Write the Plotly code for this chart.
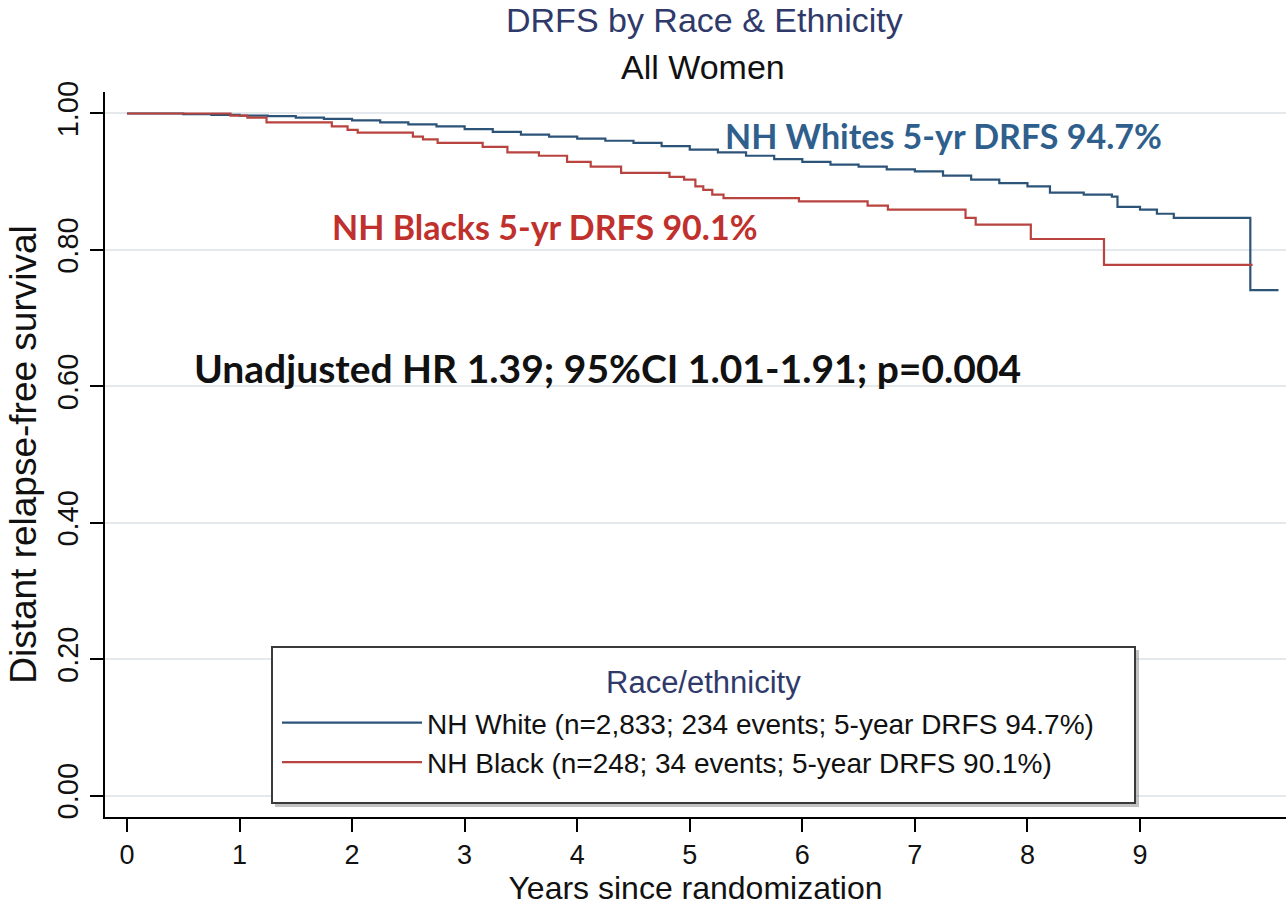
import plotly.graph_objects as go

# ---- Data (Kaplan-Meier step curves) ----
white_years = [0.0, 0.25, 0.5, 0.75, 1.0, 1.25, 1.5, 1.75, 2.0, 2.25, 2.5, 2.75, 3.0, 3.25,
               3.5, 3.75, 4.0, 4.25, 4.5, 4.75, 5.0, 5.25, 5.5, 5.75, 6.0, 6.25, 6.5, 6.75,
               7.0, 7.25, 7.5, 7.75, 8.0, 8.2, 8.5, 8.75, 8.8, 9.0, 9.15, 9.3, 9.98, 10.23]
white_surv = [1.000, 1.000, 0.999, 0.998, 0.997, 0.996, 0.994, 0.992, 0.990, 0.987, 0.984,
              0.981, 0.977, 0.973, 0.969, 0.966, 0.963, 0.960, 0.957, 0.952, 0.947, 0.943,
              0.938, 0.933, 0.929, 0.925, 0.922, 0.918, 0.915, 0.909, 0.903, 0.898, 0.893,
              0.884, 0.881, 0.878, 0.863, 0.859, 0.853, 0.847, 0.741, 0.741]

black_years = [0.0, 0.92, 1.07, 1.24, 1.82, 1.96, 2.05, 2.54, 2.63, 2.76, 3.16, 3.38, 3.66,
               3.91, 4.12, 4.39, 4.82, 4.95, 5.05, 5.12, 5.20, 5.30, 5.97, 6.58, 6.76, 7.45,
               7.54, 8.03, 8.68, 10.0]
black_surv = [1.000, 0.997, 0.994, 0.987, 0.981, 0.976, 0.972, 0.966, 0.962, 0.957, 0.951,
              0.943, 0.938, 0.929, 0.922, 0.913, 0.907, 0.903, 0.893, 0.888, 0.881, 0.876,
              0.871, 0.865, 0.859, 0.847, 0.837, 0.816, 0.778, 0.778]

series_names = ["NH White (n=2,833; 234 events; 5-year DRFS 94.7%)",
                "NH Black (n=248; 34 events; 5-year DRFS 90.1%)"]
x_ticks = [0, 1, 2, 3, 4, 5, 6, 7, 8, 9]
y_ticks = [0.0, 0.2, 0.4, 0.6, 0.8, 1.0]
y_tick_labels = ["0.00", "0.20", "0.40", "0.60", "0.80", "1.00"]

BLUE_LINE = "#2c5378"
RED_LINE = "#b8433f"
NAVY = "#2f3a6b"
BASE_FONT = "Liberation Sans, Arial, sans-serif"
BOLD_FONT = "Lato, Open Sans, sans-serif"

# plot-area pixel frame (used only to place layout elements)
L, T, W, H = 105, 92, 1181, 725


def px_x(px):
    return (px - L) / W


def px_y(py):
    return (T + H - py) / H


fig = go.Figure()
fig.add_trace(go.Scatter(x=white_years, y=white_surv, mode="lines", line_shape="hv",
                         line=dict(color=BLUE_LINE, width=2.2), name=series_names[0],
                         legendgroup="w"))
fig.add_trace(go.Scatter(x=black_years, y=black_surv, mode="lines", line_shape="hv",
                         line=dict(color=RED_LINE, width=2.2), name=series_names[1],
                         legendgroup="b"))

fig.update_layout(
    width=1286, height=907,
    margin=dict(l=L, r=1286 - L - W, t=T, b=907 - T - H),
    paper_bgcolor="white", plot_bgcolor="white",
    font=dict(family=BASE_FONT, color="#111111"),
    showlegend=True,
    legend=dict(
        x=px_x(277), y=px_y(698), xanchor="left", yanchor="top",
        bgcolor="rgba(0,0,0,0)", borderwidth=0,
        font=dict(family=BASE_FONT, size=28, color="#111111"),
        itemwidth=140, traceorder="normal", tracegroupgap=5,
    ),
    xaxis=dict(
        range=[-0.195, 10.297], tickmode="array", tickvals=x_ticks,
        ticktext=[str(v) for v in x_ticks],
        showline=True, linecolor="black", linewidth=2, mirror=False,
        ticks="outside", ticklen=13, tickwidth=2, tickcolor="black",
        showgrid=False, zeroline=False,
        tickfont=dict(family=BASE_FONT, size=27, color="#111111"),
        title=dict(text="Years since randomization", standoff=6,
                   font=dict(family=BASE_FONT, size=32, color="#111111")),
    ),
    yaxis=dict(
        range=[-0.0315, 1.0315], tickmode="array", tickvals=y_ticks, ticktext=y_tick_labels,
        showline=True, linecolor="black", linewidth=2,
        ticks="outside", ticklen=13, tickwidth=2, tickcolor="black",
        tickangle=-90,
        showgrid=True, gridcolor="#e3e9ed", gridwidth=1.5, zeroline=False,
        tickfont=dict(family=BASE_FONT, size=29, color="#111111"),
        title=dict(text="Distant relapse-free survival", standoff=4,
                   font=dict(family=BASE_FONT, size=37, color="#111111")),
    ),
)

# legend frame with a soft drop shadow
shapes = [
    dict(type="rect", xref="paper", yref="paper", layer="above",
         x0=px_x(275), x1=px_x(1139), y0=px_y(650), y1=px_y(807),
         line=dict(width=0), fillcolor="rgba(120,120,120,0.45)"),
    dict(type="rect", xref="paper", yref="paper", layer="above",
         x0=px_x(272), x1=px_x(1135), y0=px_y(647), y1=px_y(803),
         line=dict(color="#3a3a3a", width=2), fillcolor="white"),
]

annotations = [
    dict(text="DRFS by Race & Ethnicity", xref="paper", yref="paper",
         x=px_x(704), y=px_y(20), showarrow=False, xanchor="center", yanchor="middle",
         font=dict(family=BASE_FONT, size=34, color=NAVY)),
    dict(text="All Women", xref="paper", yref="paper",
         x=px_x(703), y=px_y(67), showarrow=False, xanchor="center", yanchor="middle",
         font=dict(family=BASE_FONT, size=34, color="#111111")),
    dict(text="Race/ethnicity", xref="paper", yref="paper",
         x=px_x(703), y=px_y(682), showarrow=False, xanchor="center", yanchor="middle",
         font=dict(family=BASE_FONT, size=31, color=NAVY)),
    dict(text="<b>NH Whites 5-yr DRFS 94.7%</b>", xref="x", yref="y", x=7.25, y=0.968,
         showarrow=False, xanchor="center", yanchor="middle",
         font=dict(family=BOLD_FONT, size=34, color="#2f5f8c")),
    dict(text="<b>NH Blacks 5-yr DRFS 90.1%</b>", xref="x", yref="y", x=3.71, y=0.835,
         showarrow=False, xanchor="center", yanchor="middle",
         font=dict(family=BOLD_FONT, size=34, color="#c0312d")),
    dict(text="<b>Unadjusted HR 1.39; 95%CI 1.01-1.91; p=0.004</b>", xref="x", yref="y",
         x=4.27, y=0.627, showarrow=False, xanchor="center", yanchor="middle",
         font=dict(family=BOLD_FONT, size=39, color="#111111")),
]
fig.update_layout(annotations=annotations, shapes=shapes)

fig.write_html("out.html")
